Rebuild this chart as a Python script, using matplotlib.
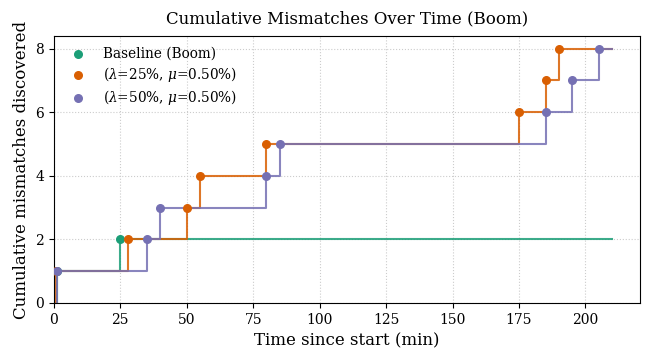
"""Cumulative mismatches over time (Boom) - step plot recreation."""

import matplotlib
matplotlib.use("Agg")
import matplotlib.pyplot as plt

# discovery times (min) for each run; count increments by one at each
baseline_times = [1.0, 25.0]
lam25_times = [0.8, 28.0, 50.0, 55.0, 80.0, 175.0, 185.0, 190.0]
lam50_times = [1.3, 35.0, 40.0, 80.0, 85.0, 185.0, 195.0, 205.0]
end_time = 210.0

series_labels = [
    "Baseline (Boom)",
    r"($\lambda$=25%, $\mu$=0.50%)",
    r"($\lambda$=50%, $\mu$=0.50%)",
]
series_colors = ["#1b9e77", "#d95f02", "#7570b3"]

plt.rcParams["font.family"] = "DejaVu Serif"
plt.rcParams["mathtext.fontset"] = "dejavuserif"

fig, ax = plt.subplots(figsize=(6.49, 3.53), dpi=100)
fig.subplots_adjust(left=0.083, right=0.986, bottom=0.142, top=0.898)

for times, label, color in zip(
    [baseline_times, lam25_times, lam50_times], series_labels, series_colors
):
    counts = list(range(1, len(times) + 1))
    xs = [times[0]] + times + [end_time]
    ys = [0] + counts + [counts[-1]]
    ax.step(xs, ys, where="post", color=color, lw=1.5, alpha=0.85)
    ax.scatter(times, counts, color=color, s=30, zorder=3, label=label)

ax.set_xlim(0, 220.5)
ax.set_ylim(0, 8.4)
ax.set_xticks([0, 25, 50, 75, 100, 125, 150, 175, 200])
ax.set_yticks([0, 2, 4, 6, 8])
ax.grid(True, linestyle=":", color="#cccccc", linewidth=0.8)
ax.set_axisbelow(True)
ax.tick_params(labelsize=10)
ax.set_xlabel("Time since start (min)", fontsize=12)
ax.set_ylabel("Cumulative mismatches discovered", fontsize=12)
ax.set_title("Cumulative Mismatches Over Time (Boom)", fontsize=12, pad=9)
ax.legend(loc="upper left", frameon=False, fontsize=9.8, handletextpad=0.85,
          labelspacing=0.32, borderaxespad=0.35)

fig.savefig("out.png", dpi=100)
